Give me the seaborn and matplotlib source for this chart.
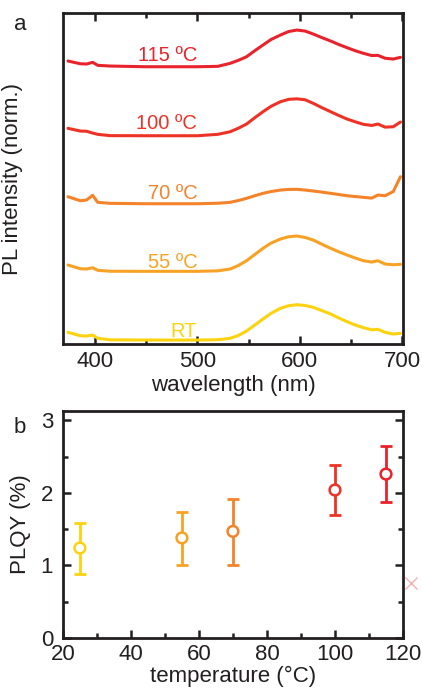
import numpy as np
import pandas as pd
import matplotlib
matplotlib.use("Agg")
import matplotlib.pyplot as plt
from matplotlib.ticker import MultipleLocator
import seaborn as sns

# ---- data: PL spectra (stacked, heights in plot units) ----
WAVELENGTH = [374, 386, 392, 398, 403, 415, 450, 500, 520, 532, 540, 548, 556, 564, 572,
              581, 589, 597, 605, 613, 621, 630, 638, 646, 654, 662, 670, 676, 683, 691, 698]
PL_RT = [11.7, 8.3, 8.0, 9.0, 5.7, 4.2, 4.0, 4.0, 4.3, 5.7, 8.5, 13.0, 19.0, 25.0, 30.8,
         35.7, 38.3, 39.3, 38.6, 36.7, 33.6, 30.0, 26.0, 22.3, 19.0, 16.3, 14.2, 14.7, 11.7, 10.0, 10.7]
PL_55 = [79.0, 75.3, 75.0, 76.3, 73.7, 72.8, 72.7, 72.7, 73.2, 75.0, 78.5, 83.3, 89.5, 95.7, 101.0,
         105.0, 107.3, 108.0, 106.6, 104.0, 100.0, 95.7, 92.2, 89.0, 86.0, 83.3, 82.0, 83.3, 80.0, 79.3, 79.7]
PL_70 = [147.3, 143.3, 144.0, 148.7, 141.7, 140.7, 140.3, 140.3, 140.8, 141.7, 143.5, 145.7, 148.3, 150.7, 152.5,
         154.0, 154.6, 154.7, 154.0, 153.0, 152.0, 150.7, 149.5, 148.3, 147.5, 146.7, 145.9, 149.0, 148.3, 152.5, 167.3]
PL_100 = [215.7, 213.0, 212.8, 211.0, 209.7, 208.4, 208.3, 208.3, 209.7, 212.3, 215.8, 220.0, 226.3, 232.3, 237.8,
          242.3, 244.7, 245.2, 244.3, 240.7, 236.6, 232.3, 228.5, 225.0, 222.2, 219.7, 218.6, 220.0, 216.9, 217.3, 222.0]
PL_115 = [283.0, 280.3, 280.0, 281.7, 278.7, 278.0, 277.3, 277.3, 277.7, 280.7, 283.7, 287.3, 293.3, 299.0, 304.6,
          309.0, 312.5, 314.0, 313.0, 310.0, 306.6, 303.0, 299.5, 296.3, 293.3, 290.7, 288.5, 288.7, 285.8, 285.0, 286.7]

CURVE_LABELS = ["RT", "55 ºC", "70 ºC", "100 ºC", "115 ºC"]
LABEL_HEIGHTS = [13, 82, 151, 221, 289]
COLORS = ["#FDD20E", "#F7A224", "#F4832A", "#EE3226", "#E9232B"]

# ---- data: PLQY vs temperature ----
TEMPERATURE = [25, 55, 70, 100, 115]
PLQY = [1.24, 1.38, 1.47, 2.04, 2.26]
PLQY_LOW = [0.88, 1.00, 1.01, 1.70, 1.87]
PLQY_HIGH = [1.59, 1.74, 1.92, 2.38, 2.65]
OUTLIER_X = [122.3]
OUTLIER_Y = [0.76]

sns.set_theme(style="ticks")
plt.rcParams["font.family"] = ["Liberation Sans", "DejaVu Sans"]
INK = "#231F20"
plt.rcParams.update({
    "axes.edgecolor": INK, "axes.linewidth": 2.0,
    "xtick.color": INK, "ytick.color": INK,
    "xtick.labelcolor": INK, "ytick.labelcolor": INK,
    "text.color": INK, "axes.labelcolor": INK,
})
FS = 16

fig = plt.figure(figsize=(4.22, 6.90), dpi=100)
ax_a = fig.add_axes([0.149, 0.5014, 0.806, 0.4797])
ax_b = fig.add_axes([0.149, 0.0754, 0.806, 0.329])

# panel a
spectra = [PL_RT, PL_55, PL_70, PL_100, PL_115]
rows = []
for lab, vals in zip(CURVE_LABELS, spectra):
    for w, v in zip(WAVELENGTH, vals):
        rows.append({"wavelength": w, "pl": v, "sample": lab})
df_pl = pd.DataFrame(rows)
sns.lineplot(data=df_pl, x="wavelength", y="pl", hue="sample", palette=COLORS,
             hue_order=CURVE_LABELS, sort=False, estimator=None, linewidth=2.2,
             legend=False, ax=ax_a)
for lab, h, c in zip(CURVE_LABELS, LABEL_HEIGHTS, COLORS):
    ax_a.text(500, h, lab, color=c, fontsize=14.5, ha="right", va="center")

ax_a.set_xlim(369, 700.5)
ax_a.set_ylim(0, 331)
ax_a.set_yticks([])
ax_a.xaxis.set_major_locator(MultipleLocator(100))
ax_a.xaxis.set_minor_locator(MultipleLocator(50))
ax_a.tick_params(axis="x", which="both", direction="in", top=True, width=1.8, labelsize=FS, pad=5)
ax_a.tick_params(axis="x", which="major", length=5.5)
ax_a.tick_params(axis="x", which="minor", length=3.5)
ax_a.set_xlabel("wavelength (nm)", fontsize=FS, va="top")
ax_a.set_ylabel("PL intensity (norm.)", fontsize=FS)
ax_a.xaxis.set_label_coords(0.5, -0.094)
ax_a.yaxis.set_label_coords(-0.118, 0.5)
fig.text(0.033, 0.964, "a", fontsize=16, ha="left", va="center")

# panel b
for t, q, lo, hi, c in zip(TEMPERATURE, PLQY, PLQY_LOW, PLQY_HIGH, COLORS):
    ax_b.errorbar([t], [q], yerr=[[q - lo], [hi - q]], fmt="none", ecolor=c,
                  elinewidth=2.0, capsize=4.5, capthick=2.0, zorder=2)
df_q = pd.DataFrame({"temperature": TEMPERATURE, "plqy": PLQY, "sample": CURVE_LABELS})
sns.scatterplot(data=df_q, x="temperature", y="plqy", hue="sample", palette=COLORS,
                hue_order=CURVE_LABELS, marker="o", s=60, facecolor="white",
                linewidth=1.8, legend=False, ax=ax_b, zorder=3)
for coll in ax_b.collections[-1:]:
    coll.set_facecolor("white")
    coll.set_edgecolor(COLORS)
ax_b.plot(OUTLIER_X, OUTLIER_Y, marker="x", color="#F2B0B0", markersize=8,
          markeredgewidth=1.0, linestyle="none", clip_on=False, zorder=4)

ax_b.set_xlim(20, 120)
ax_b.set_ylim(0, 3.13)
ax_b.xaxis.set_major_locator(MultipleLocator(20))
ax_b.xaxis.set_minor_locator(MultipleLocator(10))
ax_b.yaxis.set_major_locator(MultipleLocator(1))
ax_b.yaxis.set_minor_locator(MultipleLocator(0.5))
ax_b.tick_params(axis="both", which="both", direction="in", right=True, width=1.8, labelsize=FS)
ax_b.tick_params(axis="both", which="major", length=5.5)
ax_b.tick_params(axis="both", which="minor", length=3.5)
ax_b.tick_params(axis="x", pad=4)
ax_b.tick_params(axis="y", pad=7)
ax_b.set_xlabel("temperature (°C)", fontsize=FS, va="top")
ax_b.set_ylabel("PLQY (%)", fontsize=FS)
ax_b.xaxis.set_label_coords(0.5, -0.122)
ax_b.yaxis.set_label_coords(-0.095, 0.5)
fig.text(0.033, 0.381, "b", fontsize=16, ha="left", va="center")

fig.savefig("out.png", dpi=100)
